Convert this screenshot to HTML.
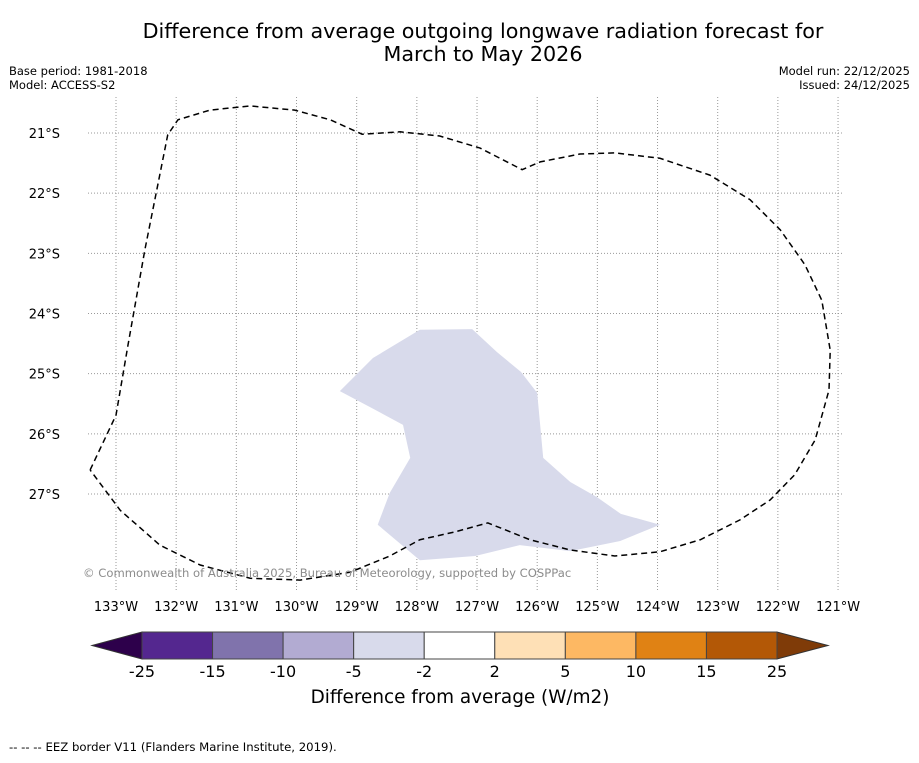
<!DOCTYPE html>
<html><head><meta charset="utf-8"><style>
body{margin:0;background:#fff;}
svg text{font-family:"DejaVu Sans","Liberation Sans",sans-serif;}
</style></head><body>
<svg id="chart" width="919" height="758" xmlns="http://www.w3.org/2000/svg">
<rect width="919" height="758" fill="#fff"/>
<text x="483" y="38" font-size="20.7" text-anchor="middle">Difference from average outgoing longwave radiation forecast for</text>
<text x="483" y="61" font-size="20.7" text-anchor="middle">March to May 2026</text>
<text x="9" y="75" font-size="11.5">Base period: 1981-2018</text>
<text x="9" y="89" font-size="11.5">Model: ACCESS-S2</text>
<text x="910" y="75" font-size="11.5" text-anchor="end">Model run: 22/12/2025</text>
<text x="910" y="89" font-size="11.5" text-anchor="end">Issued: 24/12/2025</text>
<g id="grid"></g>
<g id="marks"></g>
<text x="83" y="577" font-size="11.6" fill="#8c8c8c">© Commonwealth of Australia 2025, Bureau of Meteorology, supported by COSPPac</text>
<g id="cbar"></g>
<text x="460" y="703" font-size="18.4" text-anchor="middle">Difference from average (W/m2)</text>
<text x="9" y="751" font-size="11.7">--  --  -- EEZ border V11 (Flanders Marine Institute, 2019).</text>
</svg>
<script>
const lonTicks=[133,132,131,130,129,128,127,126,125,124,123,122,121];
const latTicks=[21,22,23,24,25,26,27];
const eezLon=[133.43,133.00,132.80,132.52,132.14,131.97,131.44,130.77,130.03,129.44,128.91,128.28,127.62,126.95,126.25,125.95,125.29,124.71,123.96,123.13,122.46,121.96,121.55,121.27,121.13,121.15,121.38,121.72,122.13,122.63,123.29,123.96,124.71,125.45,126.12,126.82,127.37,127.95,128.45,129.11,129.94,130.77,131.60,132.27,132.93,133.43];
const eezLat=[26.60,25.69,24.52,22.94,21.03,20.78,20.62,20.55,20.62,20.78,21.02,20.98,21.05,21.25,21.61,21.48,21.35,21.33,21.42,21.70,22.11,22.61,23.19,23.78,24.61,25.27,26.10,26.68,27.10,27.43,27.76,27.96,28.03,27.93,27.76,27.48,27.63,27.76,28.03,28.30,28.43,28.40,28.18,27.85,27.27,26.60];
const regionLon=[129.28,128.73,127.95,127.08,126.67,126.27,126.00,125.90,125.45,125.01,124.61,123.96,124.62,125.45,126.29,127.03,127.95,128.65,128.45,128.11,128.23,128.75];
const regionLat=[25.29,24.74,24.27,24.26,24.64,24.97,25.32,26.40,26.80,27.05,27.33,27.51,27.78,27.95,27.85,28.03,28.10,27.51,26.98,26.40,25.85,25.57];
const cbarBounds=[-25,-15,-10,-5,-2,2,5,10,15,25];
const cbarColors=['#54278f','#8073ac','#b2abd2','#d8daeb','#ffffff','#fee0b6','#fdb863','#e08214','#b35806'];
const NS='http://www.w3.org/2000/svg';
const px=lon=>116+(133-lon)*60.17;
const py=lat=>133+(lat-21)*60.17;
function mk(tag,attrs,parent){const e=document.createElementNS(NS,tag);for(const k in attrs)e.setAttribute(k,attrs[k]);parent.appendChild(e);return e;}
const grid=document.getElementById('grid'),marks=document.getElementById('marks'),cb=document.getElementById('cbar');
lonTicks.forEach(l=>{
  const ln=mk('line',{x1:px(l),x2:px(l),y1:97,y2:590,stroke:'#999','stroke-width':1,'stroke-dasharray':'1,2'},grid);
  
  
  const t=mk('text',{x:px(l),y:611,'font-size':13,'text-anchor':'middle'},grid);
  t.textContent=l+'°W';
  
  
});
latTicks.forEach(l=>{
  const ln=mk('line',{x1:88,x2:843,y1:py(l),y2:py(l),stroke:'#999','stroke-width':1,'stroke-dasharray':'1,2'},grid);
  
  
  const t=mk('text',{x:60,y:py(l)+5,'font-size':13,'text-anchor':'end'},grid);
  t.textContent=l+'°S';
  
  
});
const reg=mk('polygon',{points:regionLon.map((l,i)=>px(l)+','+py(regionLat[i])).join(' '),fill:'#d8daeb'},marks);


const eez=mk('polyline',{points:eezLon.map((l,i)=>px(l)+','+py(eezLat[i])).join(' '),fill:'none',stroke:'#000','stroke-width':1.5,'stroke-dasharray':'6,4'},marks);


const x0=142,x1=777,y0=632,y1=659,w=(x1-x0)/cbarColors.length;
const lt=mk('polygon',{points:`92,645.5 ${x0},${y0} ${x0},${y1}`,fill:'#2d004b',stroke:'#333'},cb);


const rt=mk('polygon',{points:`828,645.5 ${x1},${y0} ${x1},${y1}`,fill:'#7f3b08',stroke:'#333'},cb);


cbarColors.forEach((c,i)=>{
  const r=mk('rect',{x:x0+i*w,y:y0,width:w,height:y1-y0,fill:c,stroke:'#444','stroke-width':1},cb);
  
  
});
cbarBounds.forEach((b,i)=>{
  const t=mk('text',{x:x0+i*w,y:677,'font-size':16,'text-anchor':'middle'},cb);
  t.textContent=b;
  
  
});
</script>
</body></html>
